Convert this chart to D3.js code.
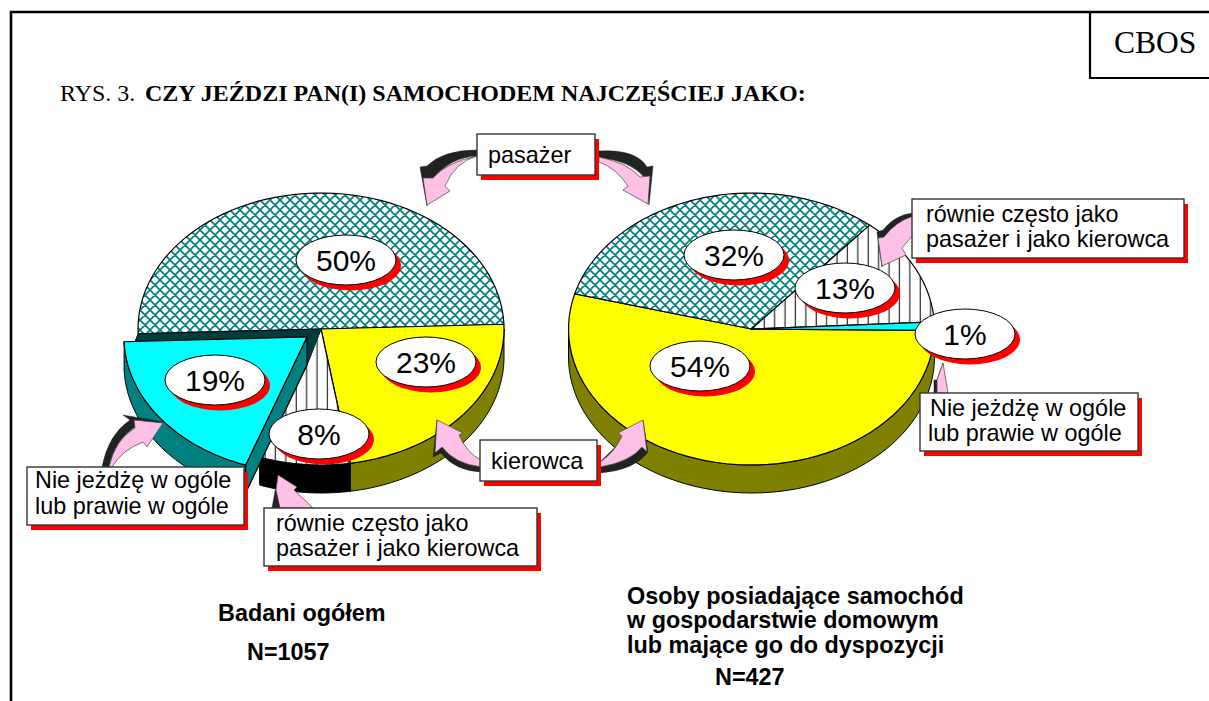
<!DOCTYPE html>
<html>
<head>
<meta charset="utf-8">
<script src="https://cdn.jsdelivr.net/npm/d3@7"></script>
<style>
html, body { margin: 0; padding: 0; background: #fff; overflow: hidden; }
svg { display: block; }
.sans { font-family: "Liberation Sans", Arial, sans-serif; }
.serif { font-family: "Liberation Serif", "Times New Roman", serif; }
</style>
</head>
<body>
<svg width="1209" height="701"></svg>
<script>
//data
const categories = ["pasażer", "kierowca", "równie", "nie"];
const leftCats = ["pasażer", "kierowca", "równie", "nie"];
const leftShares = [50, 23, 8, 19];
const rightCats = ["kierowca", "pasażer", "równie", "nie"];
const rightShares = [54, 32, 13, 1];

//label boxes: x, y, w, h, text lines (x, baseline)
const boxes = [
    {x: 477, y: 134, w: 118, h: 41, lines: [["pasażer", 488, 163]]},
    {x: 480, y: 440, w: 117, h: 41, lines: [["kierowca", 491, 469]]},
    {x: 27, y: 467, w: 217, h: 58, lines: [["Nie jeżdżę w ogóle", 35, 488], ["lub prawie w ogóle", 35, 514]]},
    {x: 264, y: 508, w: 273, h: 58, lines: [["równie często jako", 276, 531], ["pasażer i jako kierowca", 276, 556]]},
    {x: 912, y: 199, w: 272, h: 59, lines: [["równie często jako", 926, 222], ["pasażer i jako kierowca", 926, 247]]},
    {x: 920, y: 393, w: 218, h: 58, lines: [["Nie jeżdżę w ogóle", 930, 416], ["lub prawie w ogóle", 928, 441]]}
];

//percent bubbles
const bubbles = [
    {t: "50%", x: 346, y: 260}, {t: "23%", x: 426, y: 362},
    {t: "19%", x: 215, y: 380}, {t: "8%", x: 319, y: 434},
    {t: "32%", x: 734, y: 255}, {t: "13%", x: 845, y: 288},
    {t: "1%", x: 965, y: 334}, {t: "54%", x: 700, y: 366}
];

//block arrows, dark back + pink front
const arrows = [
    ["M477,150 Q443,150 427,166 L420,167 L427,206 L432,180 Q450,157 477,156 Z",
     "M477,156 Q455,162 445,186 L450,191 L427,205 L423,178 L433,178 Q447,162 477,156 Z"],
    ["M599,151 Q636,149 647,167 L653,166 L649,205 L645,178 Q630,160 599,158 Z",
     "M599,157 Q628,163 640,177 L650,176 L648,204 L623,190 L628,186 Q616,168 599,162 Z"],
    ["M437,420 L433,457 L441,453 Q455,471 482,472 L482,462 L445,440 Z",
     "M437,420 L463,433 L459,435 Q466,452 482,461 L482,467 Q455,464 442,447 L435,453 Z"],
    ["M643,420 L648,452 Q635,470 600,473 L600,462 Z",
     "M643,420 L618,433 L622,436 Q615,452 600,462 L600,467 Q630,462 642,447 L647,452 Z"],
    ["M102,467 Q108,435 130,420 L123,415 L163,422 L135,427 Q115,440 109,467 Z",
     "M163,423 L147,447 L143,442 Q122,450 112,467 L109,467 Q115,440 135,428 L134,420 Z"],
    ["M278,475 L272,508 L285,508 L280,490 Z",
     "M278,475 L297,487 L294,490 Q305,500 313,508 L280,508 L276,490 Z"],
    ["M913,213 Q895,215 883,230 L877,232 L882,267 L885,240 Q895,225 913,220 Z",
     "M882,266 L878,238 L884,237 Q895,222 913,216 L913,235 L902,248 L906,255 Z"],
    ["M943,363 L937,380 L934,380 L934,393 L940,393 Z",
     "M943,363 L947,387 L948,393 L937,393 L937,380 Z"]
];

//captions
const captions = [
    ["Badani ogółem", 218, 621], ["N=1057", 247, 660],
    ["Osoby posiadające samochód", 627, 604], ["w gospodarstwie domowym", 627, 628],
    ["lub mające go do dyspozycji", 627, 653], ["N=427", 715, 685]
];

const svg = d3.select("svg");
const defs = svg.append("defs");

//fills
const hatch = defs.append("pattern").attr("id", "hatch")
    .attr("patternUnits", "userSpaceOnUse").attr("width", 10).attr("height", 10);
hatch.append("rect").attr("width", 10).attr("height", 10).attr("fill", "#fff");
hatch.append("path").attr("d", "M0,0 L10,10 M10,0 L0,10 M-1,9 L1,11 M9,-1 L11,1 M-1,1 L1,-1 M9,11 L11,9")
    .attr("stroke", "#008080").attr("stroke-width", 1.7);

const stripes = defs.append("pattern").attr("id", "stripes")
    .attr("patternUnits", "userSpaceOnUse").attr("width", 10.4).attr("height", 10);
stripes.append("rect").attr("width", 10.4).attr("height", 10).attr("fill", "#fff");
stripes.append("path").attr("d", "M5,0 V10").attr("stroke", "#000").attr("stroke-width", 1);

const topFill = d3.scaleOrdinal().domain(categories)
    .range(["url(#hatch)", "#ffff00", "url(#stripes)", "#00ffff"]);
const wallFill = d3.scaleOrdinal().domain(categories)
    .range(["#003c3c", "#808000", "#000000", "#008080"]);

//pie
function drawPie(cats, shares, o) {
    const g = svg.append("g");
    const start = o.start * Math.PI / 180;
    const arcs = d3.pie().sort(null).startAngle(start).endAngle(start + 2 * Math.PI)(shares)
        .map((a, i) => ({cat: cats[i], a0: a.startAngle, a1: a.endAngle, v: a.value}));

    const pt = (a, dx = 0, dy = 0) => [o.cx + dx + o.rx * Math.sin(a), o.cy + dy - o.ry * Math.cos(a)];
    const samples = (a0, a1) => d3.range(0, 61).map(i => a0 + (a1 - a0) * i / 60);
    const line = d3.line();

    const sector = (d, dx = 0, dy = 0) =>
        line([[o.cx + dx, o.cy + dy]].concat(samples(d.a0, d.a1).map(a => pt(a, dx, dy)))) + "Z";

    const wall = (d, dx = 0, dy = 0) => {
        const a0 = Math.max(d.a0, Math.PI / 2), a1 = Math.min(d.a1, 3 * Math.PI / 2);
        if (a1 <= a0) return null;
        const s = samples(a0, a1);
        return line(s.map(a => pt(a, dx, dy)).concat(s.slice().reverse().map(a => pt(a, dx, dy + o.depth)))) + "Z";
    };

    const still = arcs.filter(d => d.cat !== o.explode);
    const moved = arcs.filter(d => d.cat === o.explode);

    //outer walls
    g.selectAll("path.wall").data(still).enter().append("path")
        .attr("class", "wall")
        .attr("d", d => wall(d))
        .attr("fill", d => wallFill(d.cat))
        .attr("stroke", "#000");

    //top faces
    g.selectAll("path.top").data(still).enter().append("path")
        .attr("class", "top")
        .attr("d", d => sector(d))
        .attr("fill", d => topFill(d.cat))
        .attr("stroke", "#000")
        .attr("stroke-width", 1.2);

    //pulled out slice
    moved.forEach(d => {
        const [mx, my] = o.offset;
        const tip = pt(d.a0, mx, my);
        const left = pt(d.a1, mx, my);
        const apex = [o.cx + mx, o.cy + my];

        //inner wall of the gap
        g.append("path")
            .attr("d", line([[o.cx, o.cy], pt(d.a1), [left[0], left[1] + o.depth], [apex[0], apex[1] + o.depth]]) + "Z")
            .attr("fill", "#003c3c").attr("stroke", "#000");
        g.append("path")
            .attr("d", line([[o.cx, o.cy], apex, [apex[0], apex[1] + o.depth]]) + "Z")
            .attr("fill", "#003c3c").attr("stroke", "#003c3c");

        g.append("path").attr("d", wall(d, mx, my))
            .attr("fill", wallFill(d.cat)).attr("stroke", "#000");
        g.append("path")
            .attr("d", line([apex, tip, [tip[0], tip[1] + o.depth], [apex[0], apex[1] + o.depth]]) + "Z")
            .attr("fill", wallFill(d.cat)).attr("stroke", "#000").attr("stroke-width", 1.2);
        g.append("path").attr("d", sector(d, mx, my))
            .attr("fill", topFill(d.cat)).attr("stroke", "#000").attr("stroke-width", 1.2);
    });
}

drawPie(leftCats, leftShares, {cx: 321, cy: 329, rx: 183, ry: 136, depth: 28, start: -92, explode: "nie", offset: [-14, 8]});
drawPie(rightCats, rightShares, {cx: 751.5, cy: 329, rx: 183, ry: 136, depth: 28, start: 90.6});

//frame
svg.append("path").attr("d", "M11,701 V12 H1209").attr("fill", "none").attr("stroke", "#000").attr("stroke-width", 2.6);
svg.append("path").attr("d", "M1090,12 V78 H1209").attr("fill", "none").attr("stroke", "#000").attr("stroke-width", 2.2);

//title
svg.append("text").attr("class", "serif").attr("x", 1114).attr("y", 53)
    .style("font-size", "31.5px").text("CBOS");
const title = svg.append("text").attr("class", "serif").attr("y", 101).style("font-size", "24px");
title.append("tspan").attr("x", 60).text("RYS. 3.");
title.append("tspan").attr("x", 145).style("font-weight", "bold").text("CZY JEŹDZI PAN(I) SAMOCHODEM NAJCZĘŚCIEJ JAKO:");

//arrows
arrows.forEach(a => {
    svg.append("path").attr("d", a[0]).attr("fill", "#222").attr("stroke", "#222").attr("stroke-width", 0.5);
    svg.append("path").attr("d", a[1]).attr("fill", "#ffc0e8").attr("stroke", "#444").attr("stroke-width", 0.7);
});

//boxes
boxes.forEach(b => {
    svg.append("rect").attr("x", b.x + 4).attr("y", b.y + 5).attr("width", b.w).attr("height", b.h).attr("fill", "#ff0000");
    svg.append("rect").attr("x", b.x).attr("y", b.y).attr("width", b.w).attr("height", b.h)
        .attr("fill", "#fff").attr("stroke", "#333").attr("stroke-width", 1.4);
    b.lines.forEach(l => {
        svg.append("text").attr("class", "sans").attr("x", l[1]).attr("y", l[2])
            .style("font-size", "23.4px").attr("fill", "#000").text(l[0]);
    });
});

//bubbles
bubbles.forEach(b => {
    svg.append("ellipse").attr("cx", b.x + 5).attr("cy", b.y + 5.5).attr("rx", 50).attr("ry", 25).attr("fill", "#ff0000");
    svg.append("ellipse").attr("cx", b.x).attr("cy", b.y).attr("rx", 50).attr("ry", 25)
        .attr("fill", "#fff").attr("stroke", "#000").attr("stroke-width", 1);
    svg.append("text").attr("class", "sans").attr("x", b.x).attr("y", b.y + 11)
        .attr("text-anchor", "middle").style("font-size", "30px").text(b.t);
});

//caption text
svg.selectAll("text.caption").data(captions).enter().append("text")
    .attr("class", "caption sans")
    .attr("x", d => d[1]).attr("y", d => d[2])
    .style("font-size", "23.4px").style("font-weight", "bold")
    .text(d => d[0]);
</script>
</body>
</html>
